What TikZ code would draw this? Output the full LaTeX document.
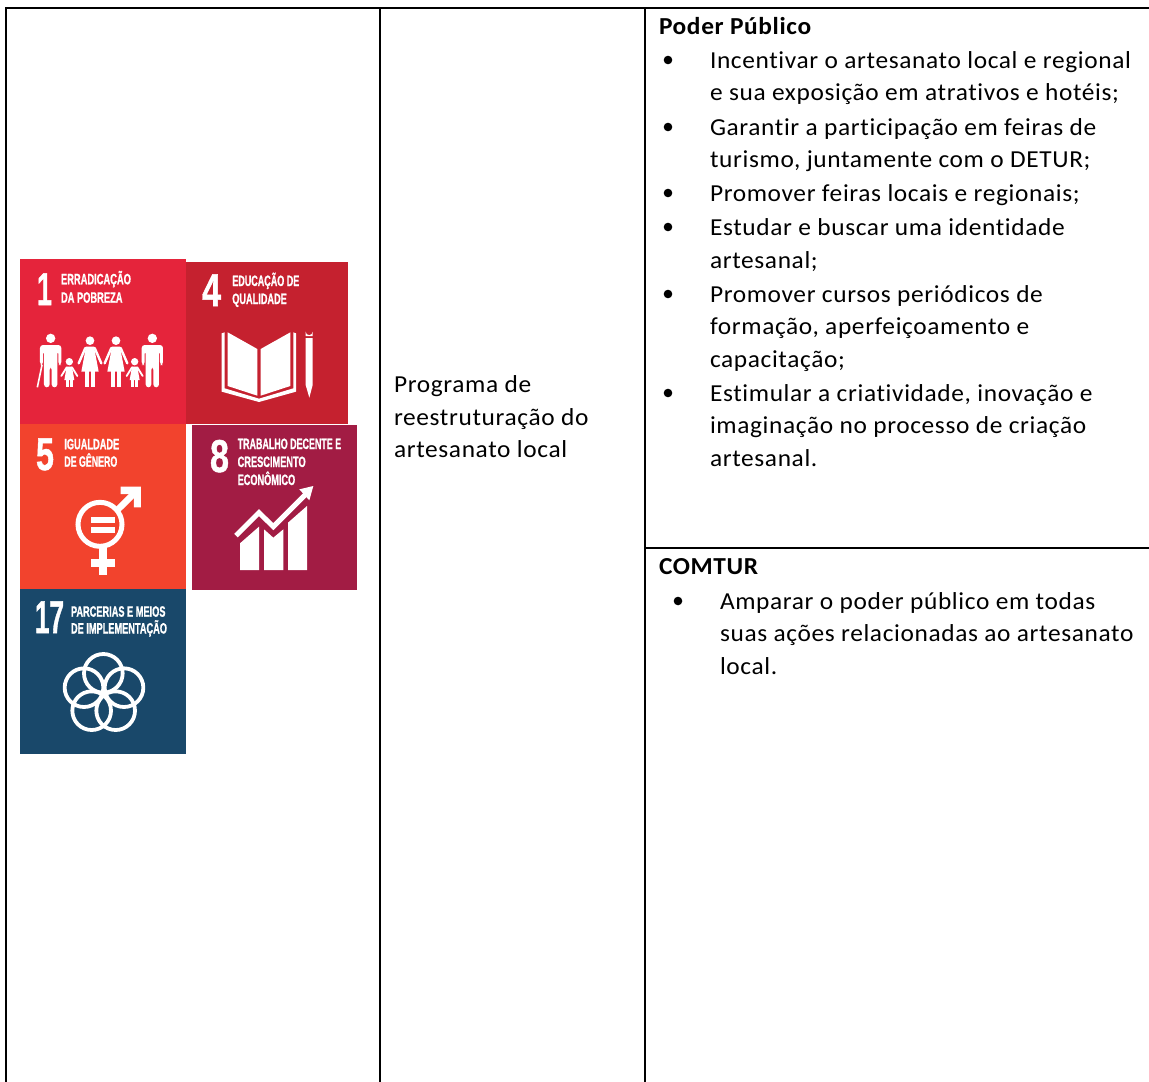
\documentclass[tikz,border=0pt]{standalone}
\usepackage{fontspec}
\usepackage{graphicx}
\setmainfont{Carlito}[Ligatures=NoCommon,LetterSpace=2.6,FakeStretch=1.04]
\newfontfamily\tilefont{Liberation Sans}[BoldFont={Liberation Sans Bold},BoldFeatures={FakeBold=1.2}]
\definecolor{sdgA}{HTML}{E5243B}
\definecolor{sdgB}{HTML}{C5212F}
\definecolor{sdgC}{HTML}{F2432D}
\definecolor{sdgD}{HTML}{A21C44}
\definecolor{sdgE}{HTML}{19486A}
\newcommand{\fitw}[2]{\resizebox{#1pt}{\height}{#2}}
\tikzset{
  x=1pt,y=-1pt,
  rule/.style={line width=2pt,black,line cap=rect},
  body/.style={anchor=base west,inner sep=0pt,outer sep=0pt,font=\fontsize{24.4pt}{30pt}\selectfont,text=black},
  head/.style={body,font=\fontsize{24.4pt}{30pt}\selectfont\bfseries},
  dotmark/.style={circle,fill=black,inner sep=0pt,minimum size=8.6pt},
  tilelabel/.style={anchor=base west,inner sep=0pt,outer sep=0pt,text=white,font=\tilefont\bfseries\fontsize{15pt}{16pt}\selectfont},
  tiledigit/.style={anchor=base west,inner sep=0pt,outer sep=0pt,text=white,font=\tilefont\bfseries\fontsize{46pt}{46pt}\selectfont},
  icon/.style={fill=white,draw=none},
  iconline/.style={draw=white,fill=none}
}
\begin{document}
\begin{tikzpicture}
\useasboundingbox[fill=white] (0,0) rectangle (1149,1082);
% tiles
\fill[sdgB] (186,262) rectangle (348,424);
\fill[sdgA] (20,259) rectangle (186,424);
\fill[sdgC] (20,424) rectangle (186,589);
\fill[sdgD] (192,425) rectangle (357,590);
\fill[sdgE] (20,589) rectangle (186,754);
% table rules
\draw[rule] (6,8) -- (1149,8);
\draw[rule] (6,8) -- (6,1082);
\draw[rule] (380,8) -- (380,1082);
\draw[rule] (645,8) -- (645,1082);
\draw[rule] (645,548) -- (1149,548);
% tile 1 icon
\begin{scope}[shift={(0,250)},scale=1/3]
  \foreach \c in {152,457}{
    \fill[icon] (\c,265) circle[radius=14];
    \fill[icon,rounded corners=3pt] (\c-32,345) -- (\c-32,285) -- (\c+32,285) -- (\c+32,345) -- (\c+23,345) -- (\c+23,302) -- (\c+20,302) -- (\c+20,412) -- (\c+3,412) -- (\c+3,350) -- (\c-3,350) -- (\c-3,412) -- (\c-20,412) -- (\c-20,302) -- (\c-23,302) -- (\c-23,345) -- cycle;
  }
  \draw[iconline,line width=1.6pt] (126,345) -- (112,412);
  \foreach \c in {270,348}{
    \fill[icon] (\c,272) circle[radius=13];
    \fill[icon] (\c-12,290) -- (\c+12,290) -- (\c+26,365) -- (\c-26,365) -- cycle;
    \fill[icon] (\c-16,360) rectangle (\c-3,412);
    \fill[icon] (\c+3,360) rectangle (\c+16,412);
    \draw[iconline,line width=2.4pt,line cap=round] (\c-14,294) -- (\c-34,340);
    \draw[iconline,line width=2.4pt,line cap=round] (\c+14,294) -- (\c+34,340);
  }
  \foreach \c in {208,404}{
    \fill[icon] (\c,335) circle[radius=11];
    \fill[icon] (\c-8,350) -- (\c+8,350) -- (\c+15,390) -- (\c-15,390) -- cycle;
    \fill[icon] (\c-10,385) rectangle (\c-2,412);
    \fill[icon] (\c+2,385) rectangle (\c+10,412);
    \draw[iconline,line width=1.8pt,line cap=round] (\c-8,352) -- (\c-24,378);
    \draw[iconline,line width=1.8pt,line cap=round] (\c+8,352) -- (\c+24,378);
  }
\end{scope}
% tile 4 icon
\begin{scope}[shift={(180,250)},scale=1/3]
  \fill[icon] (143,247) -- (232,297) -- (232,437) -- (143,408) -- cycle;
  \fill[icon] (242,297) -- (331,247) -- (331,408) -- (242,437) -- cycle;
  \fill[icon] (125,250) -- (125,425) -- (237,456) -- (348,425) -- (348,250) -- (340,247) -- (340,415) -- (237,446) -- (134,415) -- (134,247) -- cycle;
  \fill[icon] (377,245) arc[start angle=180,end angle=0,radius=10.5] -- (398,258) -- (377,258) -- cycle;
  \fill[icon] (377,264) -- (398,264) -- (398,405) -- (388,443) -- (377,405) -- cycle;
\end{scope}
% tile 5 icon
\begin{scope}[shift={(10,420)},scale=1/3]
  \draw[iconline,line width=5pt] (270,313) circle[radius=66];
  \fill[icon] (242,290) rectangle (316,308);
  \fill[icon] (242,320) rectangle (316,338);
  \fill[icon] (267,382) rectangle (291,465);
  \fill[icon] (242,416) rectangle (316,440);
  \draw[iconline,line width=6.5pt] (320,272) -- (378,215);
  \fill[icon] (332,200) -- (393,200) -- (393,262) -- (372,262) -- (372,222) -- (332,222) -- cycle;
\end{scope}
% tile 8 icon
\begin{scope}[shift={(185,420)},scale=1/3]
  \fill[icon] (165,370) -- (222,320) -- (222,450) -- (165,450) -- cycle;
  \fill[icon] (237,328) -- (265,353) -- (295,328) -- (295,450) -- (237,450) -- cycle;
  \fill[icon] (309,308) -- (366,258) -- (366,450) -- (309,450) -- cycle;
  \draw[iconline,line width=5pt] (153,347) -- (222,278) -- (265,320) -- (362,223);
  \fill[icon] (343,208) -- (385,198) -- (373,241) -- cycle;
\end{scope}
% tile 17 icon
\begin{scope}[shift={(10,585)},scale=1/3]
  \foreach \p in {(280,265),(222,308),(245,377),(317,377),(342,308)}{
    \draw[iconline,line width=3.8pt] \p circle[radius=58];
  }
\end{scope}
% tile texts
\node[tiledigit] (d1) at (37,305) {\fitw{15}{1}};
\node[tilelabel] (t1a) at (61,284.3) {\fitw{70}{ERRADICAÇÃO}};
\node[tilelabel] (t1b) at (61,302.7) {\fitw{61.5}{DA POBREZA}};
\node[tiledigit] (d4) at (202,306) {\fitw{19}{4}};
\node[tilelabel] (t4a) at (232.3,286) {\fitw{67}{EDUCAÇÃO DE}};
\node[tilelabel] (t4b) at (232.3,304) {\fitw{54.5}{QUALIDADE}};
\node[tiledigit] (d5) at (36,470) {\fitw{18}{5}};
\node[tilelabel] (t5a) at (64.3,449.3) {\fitw{55}{IGUALDADE}};
\node[tilelabel] (t5b) at (64.3,466.7) {\fitw{53}{DE GÊNERO}};
\node[tiledigit] (d8) at (210,472) {\fitw{19}{8}};
\node[tilelabel] (t8a) at (237.7,449) {\fitw{103.5}{TRABALHO DECENTE E}};
\node[tilelabel] (t8b) at (237.7,467) {\fitw{68}{CRESCIMENTO}};
\node[tilelabel] (t8c) at (237.7,485) {\fitw{57.5}{ECONÔMICO}};
\node[tiledigit] (d17) at (35,633) {\fitw{29}{17}};
\node[tilelabel] (t17a) at (71,616.7) {\fitw{94.5}{PARCERIAS E MEIOS}};
\node[tilelabel] (t17b) at (71,633.5) {\fitw{96}{DE IMPLEMENTAÇÃO}};
% middle column
\node[body] (m1) at (394,392) {Programa de};
\node[body] (m2) at (394,425) {reestruturação do};
\node[body] (m3) at (394,457) {artesanato local};
% right column
\node[head] (h1) at (659,34) {Poder Público};
\node[dotmark] (b1) at (668,60) {};
\node[body] (l1) at (710,68) {Incentivar o artesanato local e regional};
\node[body] (l2) at (710,100.5) {e sua exposição em atrativos e hotéis;};
\node[dotmark] (b2) at (668,127) {};
\node[body] (l3) at (710,135) {Garantir a participação em feiras de};
\node[body] (l4) at (710,167) {turismo, juntamente com o DETUR;};
\node[dotmark] (b3) at (668,193) {};
\node[body] (l5) at (710,201) {Promover feiras locais e regionais;};
\node[dotmark] (b4) at (668,227) {};
\node[body] (l6) at (710,235) {Estudar e buscar uma identidade};
\node[body] (l7) at (710,268) {artesanal;};
\node[dotmark] (b5) at (668,294) {};
\node[body] (l8) at (710,302) {Promover cursos periódicos de};
\node[body] (l9) at (710,334) {formação, aperfeiçoamento e};
\node[body] (l10) at (710,367) {capacitação;};
\node[dotmark] (b6) at (668,393) {};
\node[body] (l11) at (710,401) {Estimular a criatividade, inovação e};
\node[body] (l12) at (710,433) {imaginação no processo de criação};
\node[body] (l13) at (710,466) {artesanal.};
\node[head] (h2) at (659,574) {COMTUR};
\node[dotmark] (b7) at (678,601) {};
\node[body] (c1) at (720,609) {Amparar o poder público em todas};
\node[body] (c2) at (720,641) {suas ações relacionadas ao artesanato};
\node[body] (c3) at (720,674) {local.};
\end{tikzpicture}
\end{document}
